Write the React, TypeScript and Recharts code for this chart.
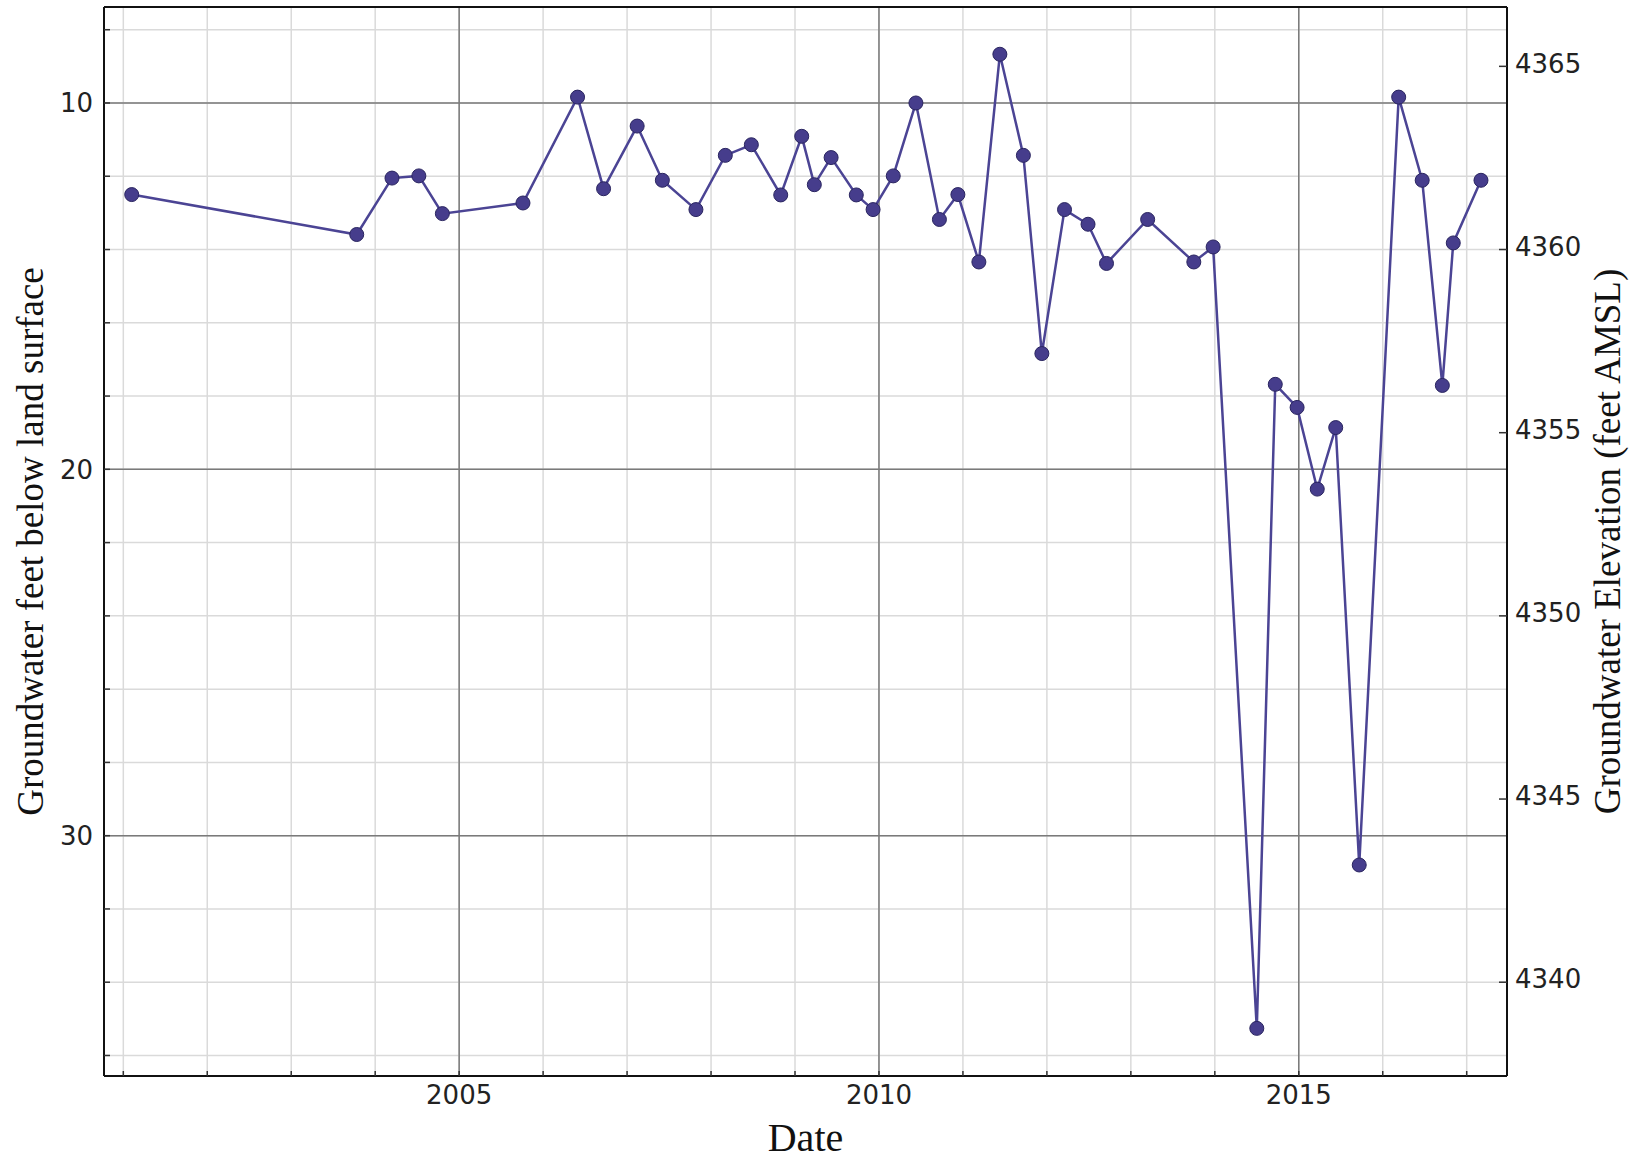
import { LineChart, Line, XAxis, YAxis, CartesianGrid, ReferenceLine, Label } from "recharts";

// measurement dates as decimal years
const dates = [
    2001.1, 2003.78, 2004.2, 2004.52, 2004.8, 2005.76, 2006.41, 2006.72, 2007.12, 2007.42,
    2007.82, 2008.17, 2008.48, 2008.83, 2009.08, 2009.23, 2009.43, 2009.73, 2009.93, 2010.17,
    2010.44, 2010.72, 2010.94, 2011.19, 2011.44, 2011.72, 2011.94, 2012.21, 2012.49, 2012.71,
    2013.2, 2013.75, 2013.98, 2014.5, 2014.72, 2014.98, 2015.22, 2015.44, 2015.72, 2016.19,
    2016.47, 2016.71, 2016.84, 2017.17,
];

// groundwater depth, feet below land surface
const depths = [
    12.5, 13.59, 12.05, 11.99, 13.02, 12.73, 9.84, 12.34, 10.63, 12.11,
    12.91, 11.43, 11.14, 12.51, 10.91, 12.23, 11.49, 12.51, 12.91, 11.99,
    10.0, 13.18, 12.5, 14.34, 8.67, 11.43, 16.84, 12.91, 13.31, 14.38,
    13.18, 14.34, 13.93, 35.26, 17.68, 18.31, 20.54, 18.86, 30.8, 9.84,
    12.11, 17.71, 13.82, 12.11,
];

const yearTicks = [2001, 2002, 2003, 2004, 2005, 2006, 2007, 2008, 2009, 2010, 2011, 2012, 2013, 2014, 2015, 2016, 2017];
const yearLabels = [2005, 2010, 2015];
const depthTicks = [8, 10, 12, 14, 16, 18, 20, 22, 24, 26, 28, 30, 32, 34, 36];
const depthLabels = [10, 20, 30];
const elevationTicks = [4340, 4345, 4350, 4355, 4360, 4365];
const landSurface = 4374;

const dateDomain = [2000.77, 2017.48];
const depthDomain = [7.38, 36.56];

const data = dates.map((date, i) => ({ date, depth: depths[i] }));

const tickFont = { fontFamily: "DejaVu Sans", fontSize: 26, fill: "#222" };
const titleFont = { fontFamily: "Liberation Serif", fill: "#111" };

function DateTick({ x, y, payload }: any) {
    return (
        <g>
            <line x1={x} x2={x} y1={y} y2={y - 5} stroke="#333" strokeWidth={1.5} />
            {yearLabels.includes(payload.value) && (
                <text x={x} y={y + 10} dy="0.71em" textAnchor="middle" {...tickFont}>
                    {payload.value}
                </text>
            )}
        </g>
    );
}

function DepthTick({ x, y, payload }: any) {
    return (
        <g>
            <line x1={x} x2={x + 6} y1={y} y2={y} stroke="#333" strokeWidth={1.5} />
            {depthLabels.includes(payload.value) && (
                <text x={x - 11} y={y} dy="0.355em" textAnchor="end" {...tickFont}>
                    {payload.value}
                </text>
            )}
        </g>
    );
}

function ElevationTick({ x, y, payload }: any) {
    return (
        <g>
            <line x1={x} x2={x - 8} y1={y} y2={y} stroke="#333" strokeWidth={1.5} />
            <text x={x + 8} y={y - 3} dy="0.355em" textAnchor="start" {...tickFont}>
                {payload.value}
            </text>
        </g>
    );
}

function LeftTitle({ viewBox }: any) {
    const cx = viewBox.x + 30;
    const cy = viewBox.y + viewBox.height / 2;
    return (
        <text x={cx} y={cy} transform={`rotate(-90 ${cx} ${cy})`} textAnchor="middle" dominantBaseline="central" fontSize={37} {...titleFont}>
            Groundwater feet below land surface
        </text>
    );
}

function RightTitle({ viewBox }: any) {
    const cx = viewBox.x + 100;
    const cy = viewBox.y + viewBox.height / 2;
    return (
        <text x={cx} y={cy} transform={`rotate(-90 ${cx} ${cy})`} textAnchor="middle" dominantBaseline="central" fontSize={37} {...titleFont}>
            Groundwater Elevation (feet AMSL)
        </text>
    );
}

function DateTitle({ viewBox }: any) {
    return (
        <text x={viewBox.x + viewBox.width / 2} y={viewBox.y + 75} textAnchor="middle" fontSize={40} {...titleFont}>
            Date
        </text>
    );
}

const frame = { stroke: "#111", strokeWidth: 2 };

export default function App() {
    return (
        <div>
            <style>{"body{margin:0;background:#fff}"}</style>
            <LineChart width={1644} height={1162} data={data} margin={{ top: 7, right: 0, bottom: 0, left: 0 }}>
                <CartesianGrid stroke="#dadada" strokeWidth={1.5} />
                <XAxis
                    dataKey="date"
                    type="number"
                    domain={dateDomain}
                    allowDataOverflow
                    ticks={yearTicks}
                    interval={0}
                    height={86}
                    tickLine={false}
                    tickSize={0}
                    tickMargin={0}
                    axisLine={frame}
                    tick={<DateTick />}
                    label={<Label content={<DateTitle />} />}
                />
                <YAxis
                    type="number"
                    domain={depthDomain}
                    reversed
                    allowDataOverflow
                    ticks={depthTicks}
                    interval={0}
                    width={104}
                    tickLine={false}
                    tickSize={0}
                    tickMargin={0}
                    axisLine={frame}
                    tick={<DepthTick />}
                    label={<Label content={<LeftTitle />} />}
                />
                <YAxis
                    yAxisId="elev"
                    orientation="right"
                    type="number"
                    domain={[landSurface - depthDomain[1], landSurface - depthDomain[0]]}
                    allowDataOverflow
                    ticks={elevationTicks}
                    interval={0}
                    width={137}
                    tickLine={false}
                    tickSize={0}
                    tickMargin={0}
                    axisLine={frame}
                    tick={<ElevationTick />}
                    label={<Label content={<RightTitle />} />}
                />
                {yearLabels.map((yr) => (
                    <ReferenceLine key={"x" + yr} x={yr} stroke="#7a7a7a" strokeWidth={1.5} />
                ))}
                {depthLabels.map((d) => (
                    <ReferenceLine key={"y" + d} y={d} stroke="#7a7a7a" strokeWidth={1.5} />
                ))}
                <ReferenceLine y={depthDomain[0]} stroke="#111" strokeWidth={2} />
                <Line
                    dataKey="depth"
                    stroke="#4b4494"
                    strokeWidth={2.5}
                    dot={{ r: 7, fill: "#463d8c", stroke: "#2a2560", strokeWidth: 1 }}
                    isAnimationActive={false}
                />
            </LineChart>
        </div>
    );
}
